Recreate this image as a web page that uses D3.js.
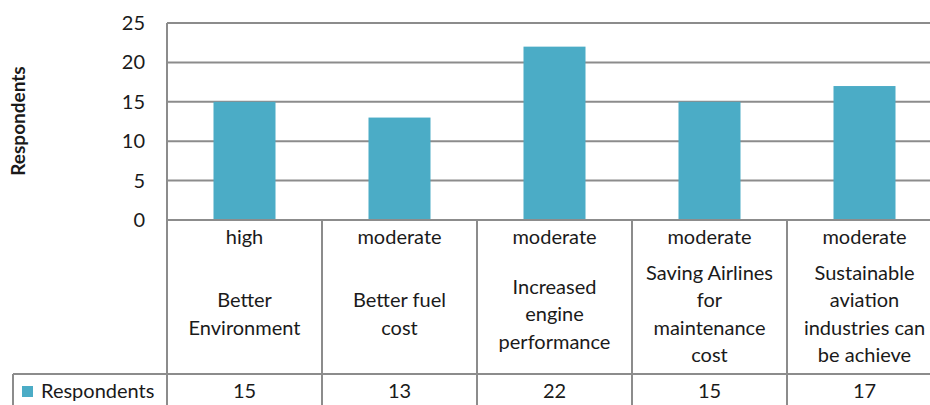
<!DOCTYPE html>
<html>
<head>
<meta charset="utf-8">
<script src="https://cdn.jsdelivr.net/npm/d3@7"></script>
<style>
  body { margin: 0; background: #fff; }
  text { font-family: Lato, "Open Sans", sans-serif; fill: #1a1a1a; }
</style>
</head>
<body>
<div id="chart"></div>
<script>
"use strict";
// chart data
const seriesName = "Respondents";
const levels = ["high", "moderate", "moderate", "moderate", "moderate"];
const categories = [
    ["Better", "Environment"],
    ["Better fuel", "cost"],
    ["Increased", "engine", "performance"],
    ["Saving Airlines", "for", "maintenance", "cost"],
    ["Sustainable", "aviation", "industries can", "be achieve"]
];
const values = [15, 13, 22, 15, 17];
const yTicks = [0, 5, 10, 15, 20, 25];

let dimensions = { width: 930, height: 405 };
let plot = { left: 167, right: 942, top: 23, bottom: 220 };
let tableRowY = 374, tableLeft = 13;
let barColor = "#4BACC6", gridColor = "#8c8c8c";
let labelSize = "20px";

let svg = d3.select("#chart").append("svg")
    .attr("width", dimensions.width)
    .attr("height", dimensions.height);

let x = d3.scaleBand()
    .domain(d3.range(values.length))
    .range([plot.left, plot.right]);

let y = d3.scaleLinear()
    .domain([0, 25])
    .range([plot.bottom, plot.top]);

// gridlines
svg.append("g")
    .selectAll("line")
    .data(yTicks)
    .enter()
    .append("line")
    .attr("x1", plot.left)
    .attr("x2", plot.right)
    .attr("y1", d => y(d))
    .attr("y2", d => y(d))
    .style("stroke", gridColor)
    .style("stroke-width", 2);

// y axis labels
let yAxis = svg.append("g")
    .attr("transform", "translate(" + plot.left + ",0)")
    .call(d3.axisLeft(y).tickValues(yTicks).tickSize(0).tickPadding(22));
yAxis.select(".domain").remove();
yAxis.selectAll("text")
    .style("font-family", "Lato, 'Open Sans', sans-serif")
    .style("font-size", labelSize)
    .style("fill", "#1a1a1a");

// axis title
svg.append("text")
    .attr("transform", "rotate(-90)")
    .attr("x", -121)
    .attr("y", 25)
    .style("text-anchor", "middle")
    .style("font-weight", "bold")
    .style("font-size", "19px")
    .text(seriesName);

// bars
svg.append("g")
    .selectAll("rect")
    .data(values)
    .enter()
    .append("rect")
    .attr("x", (d, i) => x(i) + x.bandwidth() * 0.3)
    .attr("width", x.bandwidth() * 0.4)
    .attr("y", d => y(d))
    .attr("height", d => y(0) - y(d))
    .style("fill", barColor);

// table lines
let table = svg.append("g").style("stroke", gridColor).style("stroke-width", 2);
table.append("line")
    .attr("x1", plot.left).attr("x2", plot.right)
    .attr("y1", plot.bottom).attr("y2", plot.bottom);
table.append("line")
    .attr("x1", tableLeft).attr("x2", plot.right)
    .attr("y1", tableRowY).attr("y2", tableRowY);
table.append("line")
    .attr("x1", tableLeft).attr("x2", tableLeft)
    .attr("y1", tableRowY).attr("y2", dimensions.height + 5);
table.selectAll(".vline")
    .data(d3.range(values.length + 1))
    .enter()
    .append("line")
    .attr("x1", i => plot.left + i * x.step())
    .attr("x2", i => plot.left + i * x.step())
    .attr("y1", i => i === 0 ? plot.top : plot.bottom)
    .attr("y2", dimensions.height + 5);

// category labels
let cats = svg.append("g")
    .selectAll("g")
    .data(categories)
    .enter()
    .append("g")
    .attr("transform", (d, i) => "translate(" + (x(i) + x.bandwidth() / 2) + ",0)");

cats.append("text")
    .attr("y", 244)
    .style("text-anchor", "middle")
    .style("font-size", labelSize)
    .text((d, i) => levels[i]);

let lineH = 27.5;
cats.each(function (lines) {
    let g = d3.select(this);
    let startY = 314 - (lines.length - 1) * lineH / 2 + 7;
    g.selectAll(".cat-line")
        .data(lines)
        .enter()
        .append("text")
        .attr("y", (d, j) => startY + j * lineH)
        .style("text-anchor", "middle")
        .style("font-size", labelSize)
        .text(d => d);
});

// data row
svg.append("g")
    .selectAll("text")
    .data(values)
    .enter()
    .append("text")
    .attr("x", (d, i) => x(i) + x.bandwidth() / 2)
    .attr("y", 398)
    .style("text-anchor", "middle")
    .style("font-size", labelSize)
    .text(d => d);

svg.append("rect")
    .attr("x", 22).attr("y", 386)
    .attr("width", 11).attr("height", 11)
    .style("fill", barColor);
svg.append("text")
    .attr("x", 41)
    .attr("y", 398)
    .style("font-size", labelSize)
    .text(seriesName);
</script>
</body>
</html>
